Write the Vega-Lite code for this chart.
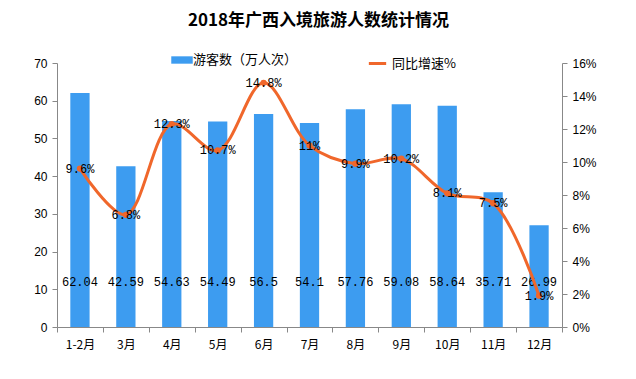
{
  "$schema": "https://vega.github.io/schema/vega-lite/v6.json",
  "width": 505,
  "height": 264,
  "autosize": {"type": "none"},
  "padding": {"left": 57, "top": 63, "right": 74, "bottom": 52},
  "background": "white",
  "title": {
    "text": "2018年广西入境旅游人数统计情况",
    "font": "Noto Sans CJK SC",
    "fontSize": 17,
    "fontWeight": "bold",
    "color": "#000000",
    "anchor": "middle",
    "dx": 9,
    "offset": 23
  },
  "data": {
    "values": [
      {"month": "1-2月", "visitors": 62.04, "growth": 9.6},
      {"month": "3月", "visitors": 42.59, "growth": 6.8},
      {"month": "4月", "visitors": 54.63, "growth": 12.3},
      {"month": "5月", "visitors": 54.49, "growth": 10.7},
      {"month": "6月", "visitors": 56.5, "growth": 14.8},
      {"month": "7月", "visitors": 54.1, "growth": 11},
      {"month": "8月", "visitors": 57.76, "growth": 9.9},
      {"month": "9月", "visitors": 59.08, "growth": 10.2},
      {"month": "10月", "visitors": 58.64, "growth": 8.1},
      {"month": "11月", "visitors": 35.71, "growth": 7.5},
      {"month": "12月", "visitors": 26.99, "growth": 1.9}
    ]
  },
  "encoding": {
    "x": {
      "field": "month",
      "type": "ordinal",
      "sort": null,
      "scale": {"paddingInner": 0, "paddingOuter": 0},
      "axis": {
        "title": null,
        "labelAngle": 0,
        "tickBand": "extent",
        "domainColor": "#888888",
        "tickColor": "#888888",
        "tickSize": 5,
        "labelFont": "Noto Sans CJK SC",
        "labelFontSize": 12,
        "labelColor": "#000000",
        "labelPadding": 7
      }
    }
  },
  "layer": [
    {
      "layer": [
        {
          "mark": {"type": "bar", "width": {"band": 0.42}},
          "encoding": {
            "y": {
              "field": "visitors",
              "type": "quantitative",
              "scale": {"domain": [0, 70], "nice": false},
              "axis": {
                "title": null,
                "values": [0, 10, 20, 30, 40, 50, 60, 70],
                "tickCount": 8,
                "labelOverlap": false,
                "grid": false,
                "domainColor": "#888888",
                "tickColor": "#888888",
                "tickSize": 5,
                "labelFont": "Liberation Sans",
                "labelFontSize": 12,
                "labelColor": "#000000",
                "labelPadding": 5
              }
            },
            "color": {
              "datum": "游客数（万人次）",
              "type": "nominal",
              "scale": {"range": ["#3d9cf0"]},
              "legend": {
                "title": null,
                "orient": "none",
                "legendX": 118,
                "legendY": -10,
                "symbolType": "M-1.6,-0.55H1.6V0.55H-1.6Z",
                "symbolSize": 180,
                "symbolStrokeWidth": 0,
                "labelFont": "Noto Sans CJK SC",
                "labelFontSize": 13,
                "labelColor": "#000000"
              }
            }
          }
        },
        {
          "mark": {"type": "text", "font": "Liberation Mono", "fontSize": 12, "color": "#000000"},
          "encoding": {
            "y": {"datum": 12, "type": "quantitative"},
            "text": {"field": "visitors", "type": "quantitative"}
          }
        }
      ]
    },
    {
      "layer": [
        {
          "mark": {"type": "line", "interpolate": "catmull-rom", "strokeWidth": 3},
          "encoding": {
            "y": {
              "field": "growth",
              "type": "quantitative",
              "scale": {"domain": [0, 16], "nice": false},
              "axis": {
                "title": null,
                "orient": "right",
                "values": [0, 2, 4, 6, 8, 10, 12, 14, 16],
                "tickCount": 9,
                "labelOverlap": false,
                "labelExpr": "datum.value + '%'",
                "grid": false,
                "domainColor": "#888888",
                "tickColor": "#888888",
                "tickSize": 5,
                "labelFont": "Liberation Sans",
                "labelFontSize": 12,
                "labelColor": "#000000",
                "labelPadding": 5
              }
            },
            "stroke": {
              "datum": "同比增速%",
              "type": "nominal",
              "scale": {"range": ["#f0672b"]},
              "legend": {
                "title": null,
                "orient": "none",
                "legendX": 310,
                "legendY": -10,
                "symbolType": "stroke",
                "symbolStrokeWidth": 3,
                "symbolSize": 300,
                "labelFont": "Noto Sans CJK SC",
                "labelFontSize": 13,
                "labelColor": "#000000"
              }
            }
          }
        },
        {
          "mark": {"type": "point", "filled": true, "size": 40, "color": "#f0672b", "opacity": 1},
          "encoding": {"y": {"field": "growth", "type": "quantitative"}}
        },
        {
          "mark": {"type": "text", "font": "Liberation Mono", "fontSize": 12, "color": "#000000"},
          "encoding": {
            "y": {"field": "growth", "type": "quantitative"},
            "text": {"value": {"expr": "datum.growth + '%'"}}
          }
        }
      ]
    }
  ],
  "resolve": {"scale": {"y": "independent"}},
  "config": {"view": {"stroke": null}}
}
